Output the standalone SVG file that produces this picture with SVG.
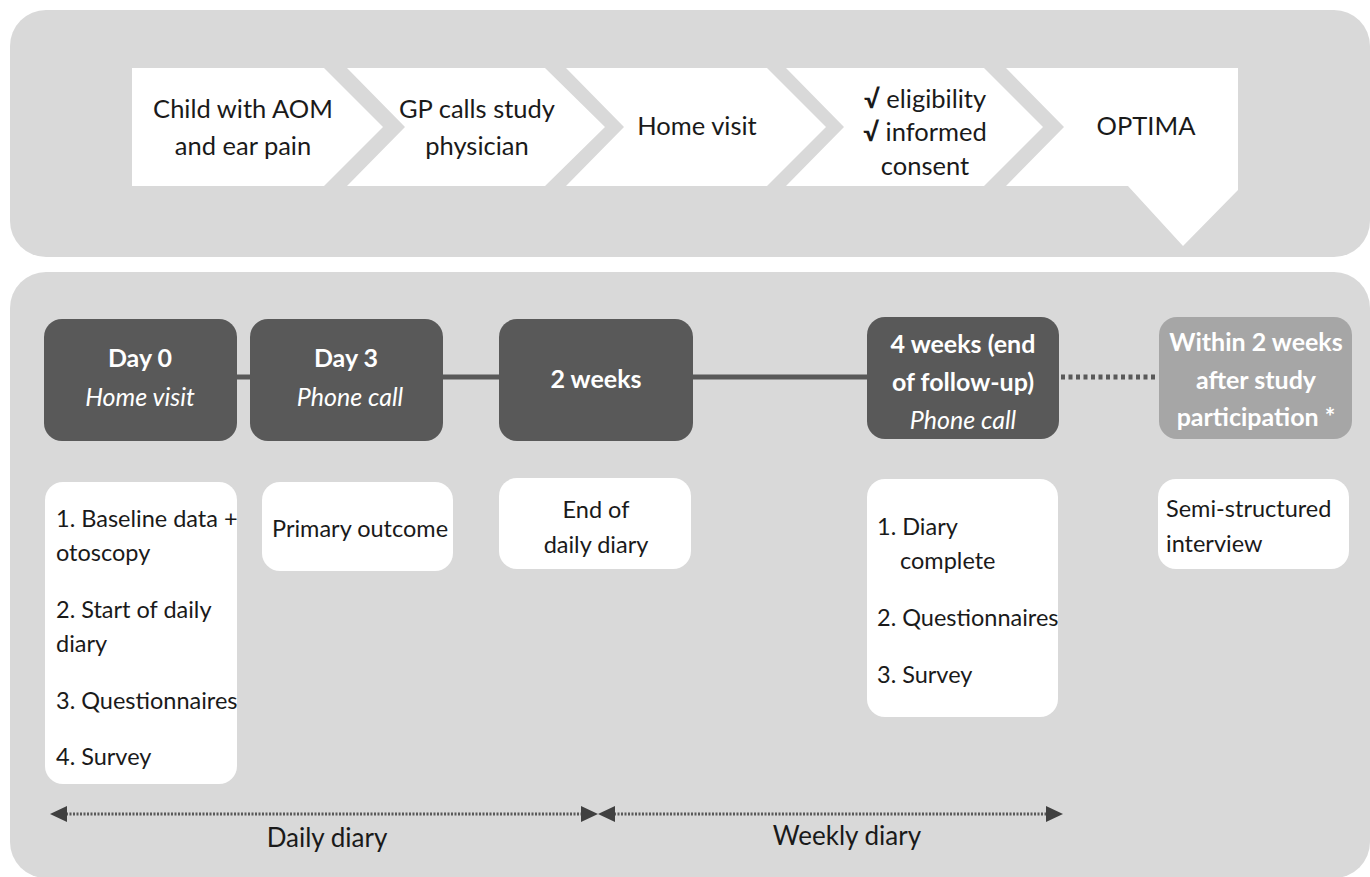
<svg xmlns="http://www.w3.org/2000/svg" width="1370" height="877" viewBox="0 0 1370 877">
<defs>
<style>
.panel{fill:#d9d9d9}
.chev{fill:#ffffff}
.dark{fill:#595959}
.light{fill:#a6a6a6}
.wbox{fill:#ffffff}
text{font-family:Lato,"Open Sans","Liberation Sans",sans-serif;font-size:23.5px;fill:#1a1a1a}
.ct{font-size:25.5px}
.dt{font-size:25px}
.lb{font-size:26px}
.c{text-anchor:middle}
.wt{fill:#ffffff}
.b{font-weight:bold}
.i{font-style:italic}
.solid{stroke:#595959;stroke-width:5;fill:none}
.dots{stroke:#595959;stroke-width:5;stroke-dasharray:4 3.5;fill:none}
.fine{stroke:#595959;stroke-width:3;stroke-dasharray:2 1.5;fill:none}
.ah{fill:#404040}
</style>
</defs>
<rect class="panel" x="10" y="10" width="1360" height="247" rx="36"/>
<rect class="panel" x="10" y="272" width="1360" height="606" rx="36"/>

<g id="step1"><polygon class="chev" points="132,68 324,68 383,127 324,186 132,186"/>
<text class="c ct" x="243" y="118">Child with AOM</text><text class="c ct" x="243" y="155">and ear pain</text></g>
<g id="step2"><polygon class="chev" points="347,68 545,68 605,127 545,186 347,186 405,127"/>
<text class="c ct" x="477" y="118">GP calls study</text><text class="c ct" x="477" y="155">physician</text></g>
<g id="step3"><polygon class="chev" points="566,68 767,68 826,127 767,186 566,186 624,127"/>
<text class="c ct" x="697" y="135">Home visit</text></g>
<g id="step4"><polygon class="chev" points="786,68 984,68 1043,127 984,186 786,186 844,127"/>
<text class="c ct" x="925" y="108"><tspan class="b">√</tspan> eligibility</text><text class="c ct" x="925" y="141"><tspan class="b">√</tspan> informed</text><text class="c ct" x="925" y="175">consent</text></g>
<g id="step5"><polygon class="chev" points="1006,68 1238,68 1238,190 1183,246 1128,186 1006,186 1064,127"/>
<text class="c ct" x="1146" y="135">OPTIMA</text></g>

<g id="connectors">
<line class="solid" x1="236" y1="377" x2="251" y2="377"/>
<line class="solid" x1="442" y1="377" x2="500" y2="377"/>
<line class="solid" x1="692" y1="377" x2="868" y2="377"/>
<line class="dots" x1="1061" y1="377" x2="1158" y2="377"/>
<line class="fine" x1="66" y1="814" x2="582" y2="814"/>
<polygon class="ah" points="50,814 67,806 67,822"/>
<polygon class="ah" points="598,814 581,806 581,822"/>
<line class="fine" x1="614" y1="814" x2="1046" y2="814"/>
<polygon class="ah" points="598,814 615,806 615,822"/>
<polygon class="ah" points="1063,814 1046,806 1046,822"/>
</g>

<g id="day0"><rect class="dark" x="44" y="319" width="193" height="122" rx="18"/>
<text class="c wt b dt" x="140" y="367">Day 0</text><text class="c wt i dt" x="140" y="406">Home visit</text></g>
<g id="day3"><rect class="dark" x="250" y="319" width="193" height="122" rx="18"/>
<text class="c wt b dt" x="346" y="367">Day 3</text><text class="c wt i dt" x="350" y="406">Phone call</text></g>
<g id="week2"><rect class="dark" x="499" y="319" width="194" height="122" rx="18"/>
<text class="c wt b dt" x="596" y="388">2 weeks</text></g>
<g id="week4"><rect class="dark" x="867" y="317" width="192" height="122" rx="18"/>
<text class="c wt b dt" x="963" y="353">4 weeks (end</text><text class="c wt b dt" x="963" y="391">of follow-up)</text><text class="c wt i dt" x="963" y="429">Phone call</text></g>
<g id="within2"><rect class="light" x="1159" y="317" width="193" height="122" rx="18"/>
<text class="c wt b dt" x="1256" y="351">Within 2 weeks</text><text class="c wt b dt" x="1256" y="389">after study</text><text class="c wt b dt" x="1256" y="426">participation *</text></g>

<g id="box-day0"><rect class="wbox" x="45" y="482" width="192" height="302" rx="18"/>
<text x="56" y="527">1. Baseline data +</text><text x="56" y="561">otoscopy</text>
<text x="56" y="618">2. Start of daily</text><text x="56" y="652">diary</text>
<text x="56" y="709">3. Questionnaires</text><text x="56" y="765">4. Survey</text></g>
<g id="box-day3"><rect class="wbox" x="262" y="482" width="191" height="89" rx="18"/>
<text x="272" y="537">Primary outcome</text></g>
<g id="box-week2"><rect class="wbox" x="499" y="478" width="192" height="91" rx="18"/>
<text class="c" x="596" y="518">End of</text><text class="c" x="596" y="553">daily diary</text></g>
<g id="box-week4"><rect class="wbox" x="867" y="479" width="191" height="238" rx="18"/>
<text x="877" y="535">1. Diary</text><text x="900" y="569">complete</text>
<text x="877" y="626">2. Questionnaires</text><text x="877" y="683">3. Survey</text></g>
<g id="box-within2"><rect class="wbox" x="1158" y="479" width="191" height="90" rx="18"/>
<text x="1166" y="517">Semi-structured</text><text x="1166" y="552">interview</text></g>

<g id="labels">
<text class="c lb" x="327" y="847">Daily diary</text>
<text class="c lb" x="847" y="845">Weekly diary</text>
</g>
</svg>
